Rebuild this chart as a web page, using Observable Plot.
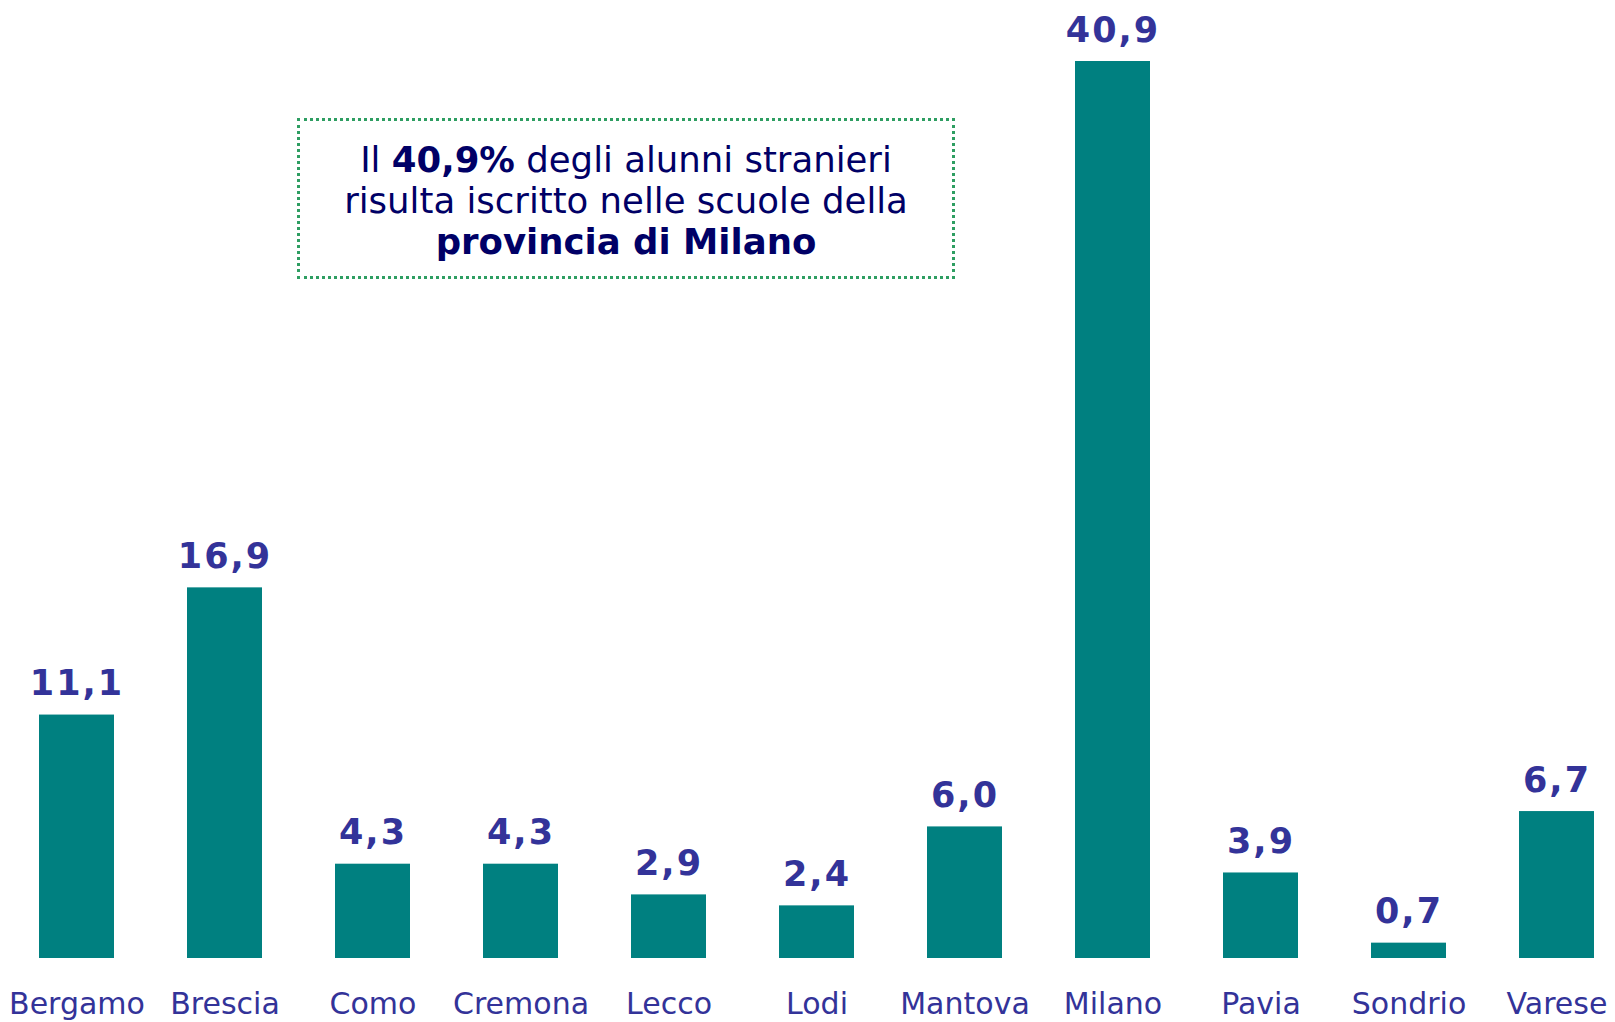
<!DOCTYPE html>
<html>
<head>
<meta charset="utf-8">
<script src="https://cdn.jsdelivr.net/npm/d3@7"></script>
<script src="https://cdn.jsdelivr.net/npm/@observablehq/plot@0.6"></script>
<style>
  html, body { margin: 0; padding: 0; background: #fff; }
  #wrap { position: relative; width: 1615px; height: 1022px; overflow: hidden; }
  #note {
    position: absolute; left: 297px; top: 118px; width: 658px; height: 161px;
    box-sizing: border-box; border: 3px dotted #2e9e62;
    padding-top: 18px; text-align: center;
    font-family: "DejaVu Sans", sans-serif; font-size: 35.5px; line-height: 41px;
    color: #000066;
  }
  #note b { font-weight: bold; }
  .vlab text { letter-spacing: 2px; }
</style>
</head>
<body>
<div id="wrap">
  <div id="chart"></div>
  <div id="note">Il <b>40,9%</b> degli alunni stranieri<br>risulta iscritto nelle scuole della<br><b>provincia di Milano</b></div>
</div>
<script>
const categories = ["Bergamo","Brescia","Como","Cremona","Lecco","Lodi","Mantova","Milano","Pavia","Sondrio","Varese"];
const values = [11.1, 16.9, 4.3, 4.3, 2.9, 2.4, 6.0, 40.9, 3.9, 0.7, 6.7];

const data = categories.map((c, i) => ({ provincia: c, valore: values[i] }));
const fmt = v => d3.format(".1f")(v).replace(".", ",");

const chart = Plot.plot({
  width: 1615,
  height: 1022,
  marginLeft: 38,
  marginRight: 20,
  marginTop: 61,
  marginBottom: 64,
  style: { fontFamily: "DejaVu Sans, sans-serif", background: "#fff" },
  x: { domain: categories, paddingInner: 0.49, paddingOuter: 0, axis: null },
  y: { domain: [0, 40.9], axis: null },
  marks: [
    Plot.barY(data, { x: "provincia", y: "valore", fill: "#008080" }),
    Plot.text(data, {
      x: "provincia", y: "valore", text: d => fmt(d.valore),
      dy: -20, lineAnchor: "bottom", fontSize: 35, fontWeight: "bold",
      fill: "#333399", className: "vlab"
    }),
    Plot.text(data, {
      x: "provincia", y: 0, text: "provincia",
      dy: 55, lineAnchor: "bottom", fontSize: 30, fill: "#333399"
    })
  ]
});
document.getElementById("chart").appendChild(chart);
</script>
</body>
</html>
